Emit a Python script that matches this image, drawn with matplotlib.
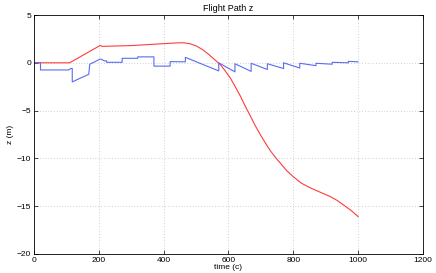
import matplotlib
matplotlib.use('Agg')
import matplotlib.pyplot as plt

# red: flight path z
t_path = [0, 105, 110, 205, 210, 300, 400, 440, 460, 480, 500, 520, 540, 560,
          575, 590, 606, 620, 637, 652, 668, 683, 698, 714, 729, 745, 760, 780,
          801, 825, 853, 880, 914, 935, 956, 980, 1000]
z_path = [0, 0, 0, 1.83, 1.72, 1.8, 2.0, 2.08, 2.1, 2.0, 1.78, 1.38, 0.85, 0.25,
          -0.2, -0.85, -1.6, -2.45, -3.5, -4.55, -5.6, -6.6, -7.5, -8.4, -9.2,
          -9.9, -10.5, -11.3, -11.95, -12.6, -13.1, -13.5, -14.0, -14.4, -14.9,
          -15.5, -16.1]

# blue: estimate (step / sawtooth)
t_est = [0, 20, 20, 107, 113, 118, 118, 169, 172, 205, 218, 224, 224, 272, 272,
         320, 320, 370, 370, 420, 420, 467, 467, 570, 570, 620, 620, 670, 670,
         720, 720, 770, 770, 820, 820, 870, 870, 920, 920, 970, 970, 1000]
z_est = [0, 0, -0.75, -0.75, -0.6, -0.6, -2.0, -1.2, -0.15, 0.4, 0.2, 0.2, 0.05,
         0.05, 0.47, 0.47, 0.62, 0.62, -0.35, -0.35, 0.12, 0.1, 0.57, -0.85,
         0.0, -0.95, -0.1, -0.9, -0.05, -0.7, -0.1, -0.6, 0.0, -0.55, -0.05,
         -0.3, -0.05, -0.15, 0.05, 0.0, 0.15, 0.1]

xticks = [0, 200, 400, 600, 800, 1000, 1200]
yticks = [-20, -15, -10, -5, 0, 5]

plt.rcParams['font.family'] = ['Liberation Sans', 'DejaVu Sans']

fig = plt.figure(figsize=(4.36, 2.73), dpi=100)
ax = fig.add_axes([0.078, 0.070, 0.892, 0.875])

ax.plot(t_path, z_path, color='#ff3b3b', lw=0.8)
ax.plot(t_est, z_est, color='#5a6cf0', lw=0.8)

ax.set_xlim(0, 1200)
ax.set_ylim(-20, 5)
ax.set_xticks(xticks)
ax.set_yticks(yticks)
ax.grid(True, linestyle=(0, (1, 3)), color='#aaaaaa', lw=0.5)
ax.tick_params(direction='in', top=True, right=True, labelsize=6, length=3,
               width=0.5, pad=2)
for s in ax.spines.values():
    s.set_linewidth(0.6)

ax.set_title('Flight Path z', fontsize=6.5, pad=3)
ax.set_xlabel('time (c)', fontsize=6, labelpad=0)
ax.set_ylabel('z (m)', fontsize=6, labelpad=2)

fig.savefig('out.png', dpi=100)
